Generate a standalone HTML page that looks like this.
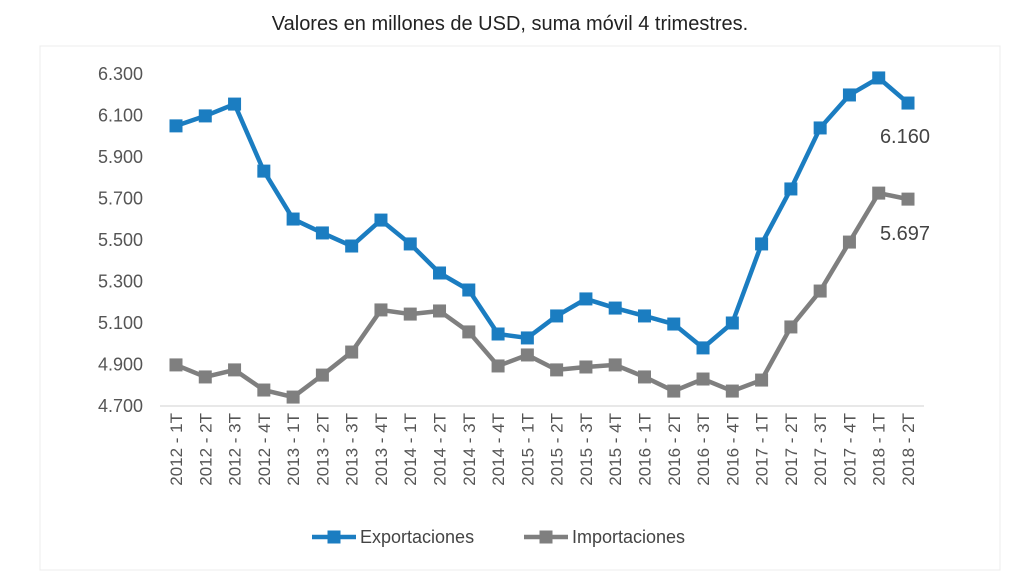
<!DOCTYPE html>
<html><head><meta charset="utf-8"><style>
body{margin:0;background:#fff;width:1024px;height:576px;overflow:hidden;font-family:"Liberation Sans",sans-serif}
</style></head><body>
<svg width="1024" height="576" id="svg" xmlns="http://www.w3.org/2000/svg">
<rect x="40" y="46" width="960" height="524" fill="none" stroke="#ececec"/>
<text x="510" y="30" text-anchor="middle" font-size="20" fill="#222">Valores en millones de USD, suma móvil 4 trimestres.</text>
<g id="g"></g>
</svg>
<script>
const categories=["2012 - 1T","2012 - 2T","2012 - 3T","2012 - 4T","2013 - 1T","2013 - 2T","2013 - 3T","2013 - 4T","2014 - 1T","2014 - 2T","2014 - 3T","2014 - 4T","2015 - 1T","2015 - 2T","2015 - 3T","2015 - 4T","2016 - 1T","2016 - 2T","2016 - 3T","2016 - 4T","2017 - 1T","2017 - 2T","2017 - 3T","2017 - 4T","2018 - 1T","2018 - 2T"];
const exportaciones=[6050,6098,6155,5832,5601,5534,5471,5596,5481,5341,5259,5047,5028,5134,5216,5172,5134,5095,4980,5100,5481,5746,6040,6199,6281,6160];
const importaciones=[4898,4840,4874,4777,4743,4849,4960,5163,5143,5158,5057,4893,4946,4874,4888,4898,4840,4772,4830,4772,4825,5081,5254,5490,5726,5697];
const yTicks=[4700,4900,5100,5300,5500,5700,5900,6100,6300];
const yMin=4700,yMax=6300;
const y=v=>406-(v-yMin)/(yMax-yMin)*332;
const x=i=>176+i*(732/(categories.length-1));
const g=document.getElementById('g');
const NS="http://www.w3.org/2000/svg";
function mk(t,a){const e=document.createElementNS(NS,t);for(const k in a)e.setAttribute(k,a[k]);g.appendChild(e);return e;}
const fmt=v=>{const s=String(v);return s.length>3?s.slice(0,s.length-3)+"."+s.slice(-3):s;};
yTicks.forEach(v=>{const t=mk('text',{x:143,y:y(v)+6,'text-anchor':'end','font-size':18,fill:'#555'});t.textContent=fmt(v);

});
const ax=mk('line',{x1:160,x2:924,y1:406,y2:406,stroke:'#d0d0d0'});


categories.forEach((c,i)=>{const t=mk('text',{transform:`translate(${x(i)+6},413) rotate(-90)`,'text-anchor':'end','font-size':17,fill:'#555'});t.textContent=c;

});
function series(d,col,name){
const p=mk('polyline',{points:d.map((v,i)=>x(i)+','+y(v)).join(' '),fill:'none',stroke:col,'stroke-width':4.5,'stroke-linejoin':'round'});


d.forEach((v,i)=>{const r=mk('rect',{x:x(i)-6.5,y:y(v)-6.5,width:13,height:13,fill:col});

});}
series(importaciones,'#7f7f7f','importaciones');
series(exportaciones,'#1b7dc1','exportaciones');
const l1=mk('text',{x:930,y:y(exportaciones[25])+40,'text-anchor':'end','font-size':20,fill:'#444'});l1.textContent=fmt(exportaciones[25]);


const l2=mk('text',{x:930,y:y(importaciones[25])+41,'text-anchor':'end','font-size':20,fill:'#444'});l2.textContent=fmt(importaciones[25]);


[[312,'#1b7dc1','Exportaciones'],[524,'#7f7f7f','Importaciones']].forEach(([lx,c,n])=>{
const ln=mk('line',{x1:lx,x2:lx+44,y1:537,y2:537,stroke:c,'stroke-width':4.5});


const r=mk('rect',{x:lx+15.5,y:530.5,width:13,height:13,fill:c});


const t=mk('text',{x:lx+48,y:543,'font-size':18,fill:'#444'});t.textContent=n;

});
</script>
</body></html>
